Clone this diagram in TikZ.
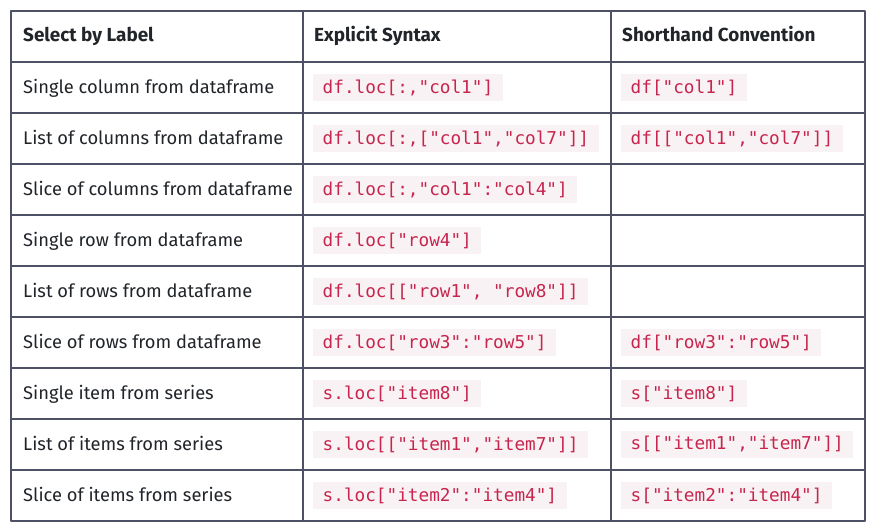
\documentclass[tikz,border=0pt]{standalone}
\usepackage{fontspec}
\setmainfont{Fira Sans}
\setmonofont{DejaVu Sans Mono}

\definecolor{rule}{HTML}{4E5166}
\definecolor{ink}{HTML}{212529}
\definecolor{codefg}{HTML}{C7254E}
\definecolor{codebg}{HTML}{F9F2F4}

\tikzset{
  cell/.style={anchor=base west, inner sep=0pt, text=ink, font=\fontsize{18.3}{22}\selectfont},
  head/.style={cell, font=\bfseries\fontsize{18.9}{22}\selectfont},
  codebox/.style={anchor=west, fill=codebg, text=codefg, inner xsep=9.5pt, inner ysep=0pt,
    minimum height=27pt, font=\ttfamily\fontsize{17.7}{20}\selectfont}
}

\begin{document}
\begin{tikzpicture}[x=1pt, y=-1pt, line join=round]
  % ---- table geometry ----
  \def\L{11}   % left edge
  \def\A{303}  % first column rule
  \def\B{611}  % second column rule
  \def\R{865}  % right edge
  \def\T{11}   % top edge
  \def\H{62}   % bottom of header
  \def\D{51}   % row height

  \useasboundingbox (0,0) rectangle (876,530);
  \fill[white] (0,0) rectangle (876,530);

  % ---- header (baseline a little below the middle) ----
  \node[head] (hLabel) at (\L+12, {(\T+\H)/2+5}) {Select by Label};
  \node[head] (hExplicit) at (\A+11, {(\T+\H)/2+5}) {Explicit Syntax};
  \node[head] (hShort) at (\B+11, {(\T+\H)/2+5}) {Shorthand Convention};

  % ---- first two columns ----
  \foreach \i/\lab/\expl in {
    1/{Single column from dataframe}/{df.loc[:,"col1"]},
    2/{List of columns from dataframe}/{df.loc[:,["col1","col7"]]},
    3/{Slice of columns from dataframe}/{df.loc[:,"col1":"col4"]},
    4/{Single row from dataframe}/{df.loc["row4"]},
    5/{List of rows from dataframe}/{df.loc[["row1", "row8"]]},
    6/{Slice of rows from dataframe}/{df.loc["row3":"row5"]},
    7/{Single item from series}/{s.loc["item8"]},
    8/{List of items from series}/{s.loc[["item1","item7"]]},
    9/{Slice of items from series}/{s.loc["item2":"item4"]}
  }{
    \node[cell] (lab\i) at (\L+12, \H+\D*\i-\D/2+6) {\lab};
    \node[codebox] (exp\i) at (\A+10, \H+\D*\i-\D/2) {\expl};
  }

  % ---- shorthand column (some rows empty) ----
  \foreach \i/\short in {
    1/{df["col1"]},
    2/{df[["col1","col7"]]},
    6/{df["row3":"row5"]},
    7/{s["item8"]},
    8/{s[["item1","item7"]]},
    9/{s["item2":"item4"]}
  }{
    \node[codebox] (sh\i) at (\B+10, \H+\D*\i-\D/2) {\short};
  }

  % ---- rules ----
  \draw[rule, line width=1.4pt] (\L,\T) rectangle (\R,\H+9*\D);
  \draw[rule, line width=1.4pt] (\A,\T) -- (\A,\H+9*\D);
  \draw[rule, line width=1.4pt] (\B,\T) -- (\B,\H+9*\D);
  \foreach \i in {0,...,8} {
    \draw[rule, line width=1.4pt] (\L,\H+\D*\i) -- (\R,\H+\D*\i);
  }
\end{tikzpicture}
\end{document}
